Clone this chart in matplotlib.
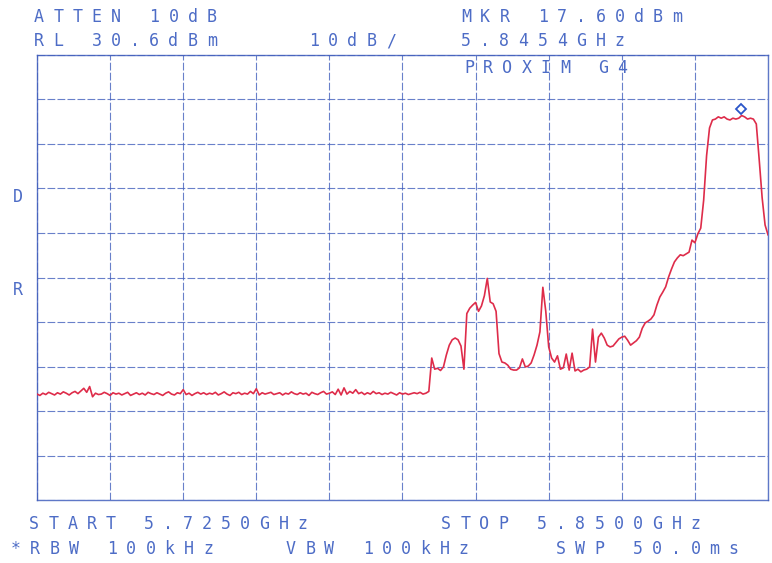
"""Spectrum analyzer plot: PROXIM G4, 5.725 - 5.850 GHz."""

import matplotlib

matplotlib.use("Agg")
import matplotlib.pyplot as plt
import matplotlib.transforms as mtransforms
import numpy as np

# sweep settings
start_mhz = 5725.0
stop_mhz = 5850.0
ref_level_dbm = 30.6
db_per_div = 10

# trace, 0.5 MHz per point (dBm)
level_dbm = [
    -45.6, -45.9, -45.4, -45.7, -45.2, -45.5, -45.8, -45.3, -45.6, -45.1,
    -45.4, -45.8, -45.3, -45.0, -45.5, -44.9, -44.3, -45.2, -43.9, -46.2,
    -45.4, -45.7, -45.6, -45.2, -45.5, -45.9, -45.3, -45.6, -45.4, -45.8,
    -45.5, -45.2, -45.9, -45.6, -45.3, -45.7, -45.4, -45.8, -45.2, -45.5,
    -45.7, -45.3, -45.6, -45.9, -45.4, -45.1, -45.6, -45.8, -45.3, -45.5,
    -44.6, -45.7, -45.4, -45.9, -45.5, -45.2, -45.6, -45.3, -45.7, -45.4,
    -45.6, -45.2, -45.8, -45.5, -45.1, -45.6, -45.9, -45.3, -45.5, -45.2,
    -45.7, -45.4, -45.6, -45.0, -45.5, -44.4, -45.8, -45.3, -45.6, -45.4,
    -45.2, -45.7, -45.5, -45.3, -45.8, -45.4, -45.6, -45.1, -45.5, -45.7,
    -45.3, -45.6, -45.4, -45.9, -45.2, -45.5, -45.7, -45.3, -45.0, -45.6,
    -45.4, -45.1, -45.7, -44.5, -45.8, -44.2, -45.6, -45.0, -45.4, -44.6,
    -45.5, -45.2, -45.7, -45.3, -45.6, -45.0, -45.5, -45.3, -45.7, -45.4,
    -45.6, -45.2, -45.5, -45.8, -45.3, -45.6, -45.4, -45.7, -45.5, -45.3,
    -45.5, -45.2, -45.6, -45.4, -45.0, -37.5, -40.0, -39.8, -40.3, -39.5,
    -36.8, -34.6, -33.4, -33.0, -33.4, -34.8, -40.0, -27.5, -26.3, -25.6,
    -25.0, -27.0, -25.8, -23.5, -19.6, -24.9, -25.3, -27.0, -36.5, -38.4,
    -38.6, -39.1, -40.0, -40.2, -40.2, -39.7, -37.7, -39.5, -39.3, -38.6,
    -36.8, -34.6, -31.6, -21.6, -27.0, -35.0, -37.5, -38.4, -37.0, -40.0,
    -39.7, -36.6, -40.2, -36.4, -40.4, -40.0, -40.6, -40.2, -40.0, -39.5,
    -31.0, -38.4, -32.8, -31.9, -33.0, -34.6, -35.0, -34.8, -34.0, -33.2,
    -32.8, -32.6, -33.5, -34.6, -34.1, -33.6, -32.8, -30.8, -29.6, -29.2,
    -28.7, -27.8, -25.6, -23.8, -22.7, -21.5, -19.3, -17.5, -15.9, -15.0,
    -14.3, -14.5, -14.1, -13.7, -11.0, -11.6, -9.6, -8.3, -2.0, 8.0,
    14.2, 16.0, 16.2, 16.7, 16.4, 16.7, 16.2, 16.0, 16.4, 16.2,
    16.4, 17.0, 16.7, 16.2, 16.4, 16.2, 15.1, 7.0, -1.5, -7.6,
    -9.8,
]

marker_mhz = 5845.4
marker_dbm = 17.60

# annotation lines: (text, left px, centre y px)
header_texts = [
    ("ATTEN 10dB", 33, 17),
    ("MKR 17.60dBm", 460, 17),
    ("RL 30.6dBm", 33, 41),
    ("10dB/", 308, 41),
    ("5.8454GHz", 460, 41),
    ("PROXIM G4", 463, 68),
    ("D", 12, 197),
    ("R", 12, 290),
    ("START 5.7250GHz", 28, 524),
    ("STOP 5.8500GHz", 440, 524),
    ("*RBW 100kHz", 10, 549),
    ("VBW 100kHz", 285, 549),
    ("SWP 50.0ms", 555, 549),
]

W, H = 772, 563
INK = "#4d6cc6"
GRID = "#4360bd"
TRACE = "#de2c4a"

fig = plt.figure(figsize=(W / 100, H / 100), dpi=100)
fig.patch.set_facecolor("white")
ax = fig.add_axes([37 / W, 1 - 500 / H, (768 - 37) / W, (500 - 55) / H])

bottom_dbm = ref_level_dbm - 10 * db_per_div
ax.set_xlim(start_mhz, stop_mhz)
ax.set_ylim(bottom_dbm, ref_level_dbm)
ax.set_xticks(np.linspace(start_mhz, stop_mhz, 11))
ax.set_yticks(np.linspace(bottom_dbm, ref_level_dbm, 11))
ax.tick_params(length=0, labelbottom=False, labelleft=False)
ax.grid(True, color=GRID, linestyle=(0, (7, 2)), linewidth=0.8, alpha=0.8)
for sp in ax.spines.values():
    sp.set_color(GRID)
    sp.set_linewidth(1.0)
    sp.set_alpha(0.85)

freq_mhz = np.linspace(start_mhz, stop_mhz, len(level_dbm))
ax.plot(freq_mhz, level_dbm, color=TRACE, linewidth=1.2, zorder=3)

# marker diamond sits just above the trace
mk_trans = mtransforms.offset_copy(ax.transData, fig=fig, y=3, units="points")
ax.plot([marker_mhz], [marker_dbm], marker="D", markersize=5, markerfacecolor="white",
        markeredgecolor="#2a55c8", markeredgewidth=1.3, transform=mk_trans, zorder=4)


def plotter_text(s, x_px, y_px, pitch=19.2):
    # plotter font has wide fixed pitch, so place characters one by one
    for k, ch in enumerate(s):
        if ch == " ":
            continue
        fig.text((x_px + 6 + k * pitch) / W, 1 - y_px / H, ch, ha="center", va="center",
                 fontsize=12, family="DejaVu Sans Mono", color=INK)


for s, x_px, y_px in header_texts:
    plotter_text(s, x_px, y_px)

fig.savefig("out.png", dpi=100)
